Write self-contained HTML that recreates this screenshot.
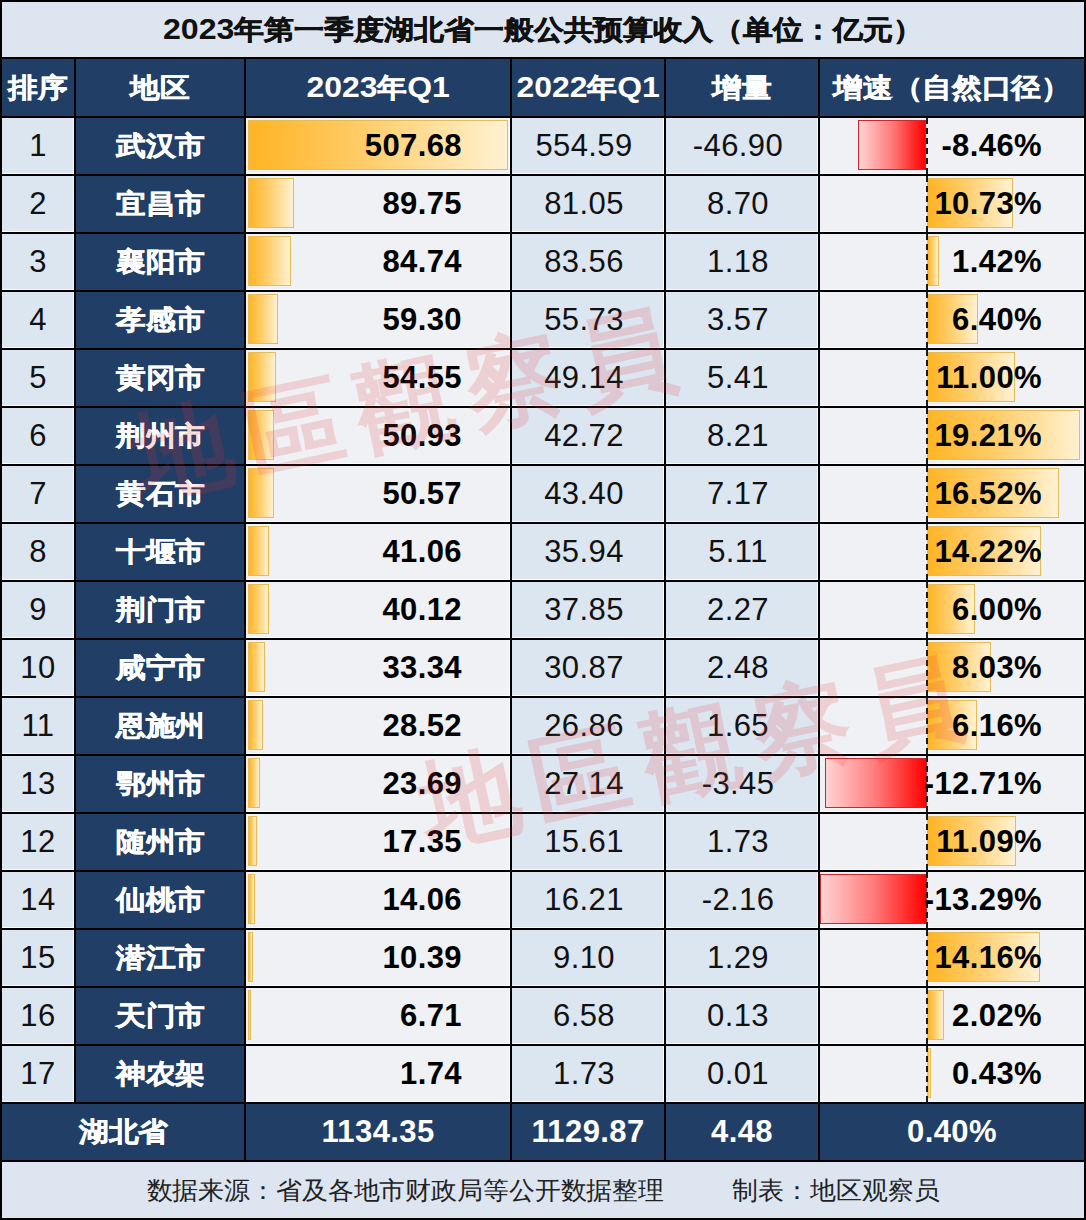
<!DOCTYPE html><html><head><meta charset="utf-8"><style>
*{margin:0;padding:0;box-sizing:border-box}
html,body{width:1086px;height:1220px;overflow:hidden;background:#000}
body{position:relative;font-family:"Liberation Sans",sans-serif}
.c{position:absolute;display:flex;align-items:center;justify-content:center;white-space:nowrap;overflow:hidden}
.r{justify-content:flex-end}
.nv{background:#213e66;color:#fff;font-weight:bold}
.k{display:inline-block;transform:scaleX(1.1);font-size:27px;-webkit-text-stroke:0.5px currentColor}
.d{font-size:29px;-webkit-text-stroke:0}
.n{font-size:31px;letter-spacing:0.4px}
.rk{background:#dce6f1;color:#111;box-shadow:inset -1px -1px 0 rgba(255,255,255,.85)}
.v23{background:#eff1f4;color:#000;font-weight:bold;box-shadow:inset -1px -1px 0 rgba(255,255,255,.85)}
.v22{background:#dce6f1;color:#111;box-shadow:inset -1px -1px 0 rgba(255,255,255,.85)}
.gr{background:#eff1f4;color:#000;font-weight:bold;box-shadow:inset -1px -1px 0 rgba(255,255,255,.85)}
.bar{position:absolute;border:1px solid #e5bc55;background:linear-gradient(90deg,#ffb424 0%,#ffcd6a 45%,#fff2d2 100%)}
.nbar{position:absolute;border:1px solid #c8282e;background:linear-gradient(90deg,#ffd4d4 0%,#ff7a7a 50%,#ff0000 100%)}
.axis{position:absolute;width:0;border-left:2px dashed #1a1a1a}
.t{position:relative;z-index:2}
.wm{position:absolute;z-index:5;color:rgba(230,50,55,0.17);font-family:"Liberation Serif",serif;font-weight:bold;font-size:98px;white-space:nowrap;line-height:1}
.wm span{position:absolute;transform:translate(-50%,-50%) rotate(-12deg)}
</style></head><body>

<div class="c " style="left:2px;top:2px;width:1082px;height:55px;background:#dde6f0;font-weight:bold;color:#111"><span class="k t" style="transform:scaleX(1.108)"><span class="d">2023</span>年第一季度湖北省一般公共预算收入（单位：亿元）</span></div>
<div class="c nv" style="left:2px;top:59px;width:72px;height:57px;"><span class="k">排序</span></div>
<div class="c nv" style="left:76px;top:59px;width:168px;height:57px;"><span class="k">地区</span></div>
<div class="c nv" style="left:246px;top:59px;width:264px;height:57px;"><span class="k"><span class="d">2023</span>年<span class="d">Q1</span></span></div>
<div class="c nv" style="left:512px;top:59px;width:152px;height:57px;"><span class="k"><span class="d">2022</span>年<span class="d">Q1</span></span></div>
<div class="c nv" style="left:666px;top:59px;width:152px;height:57px;"><span class="k">增量</span></div>
<div class="c nv" style="left:820px;top:59px;width:264px;height:57px;"><span class="k">增速（自然口径）</span></div>
<div class="c rk n" style="left:2px;top:118px;width:72px;height:56px;">1</div>
<div class="c nv" style="left:76px;top:118px;width:168px;height:56px;"><span class="k">武汉市</span></div>
<div class="c v23 r n" style="left:246px;top:118px;width:264px;height:56px;padding-right:48px">
<div class="bar" style="left:2px;top:2px;width:259.5px;height:50px"></div>
<span class="t">507.68</span></div>
<div class="c v22 n" style="left:512px;top:118px;width:152px;height:56px;padding-right:8px">554.59</div>
<div class="c v22 n" style="left:666px;top:118px;width:152px;height:56px;padding-right:8px">-46.90</div>
<div class="c gr r n" style="left:820px;top:118px;width:264px;height:56px;padding-right:42px">
<div class="nbar" style="left:38.2px;top:2px;width:68.3px;height:50px"></div>
<div class="axis" style="left:105.5px;top:0;height:56px"></div>
<span class="t">-8.46%</span></div>
<div class="c rk n" style="left:2px;top:176px;width:72px;height:56px;">2</div>
<div class="c nv" style="left:76px;top:176px;width:168px;height:56px;"><span class="k">宜昌市</span></div>
<div class="c v23 r n" style="left:246px;top:176px;width:264px;height:56px;padding-right:48px">
<div class="bar" style="left:2px;top:2px;width:45.9px;height:50px"></div>
<span class="t">89.75</span></div>
<div class="c v22 n" style="left:512px;top:176px;width:152px;height:56px;padding-right:8px">81.05</div>
<div class="c v22 n" style="left:666px;top:176px;width:152px;height:56px;padding-right:8px">8.70</div>
<div class="c gr r n" style="left:820px;top:176px;width:264px;height:56px;padding-right:42px">
<div class="bar" style="left:106.5px;top:2px;width:86.3px;height:50px"></div>
<div class="axis" style="left:105.5px;top:0;height:56px"></div>
<span class="t">10.73%</span></div>
<div class="c rk n" style="left:2px;top:234px;width:72px;height:56px;">3</div>
<div class="c nv" style="left:76px;top:234px;width:168px;height:56px;"><span class="k">襄阳市</span></div>
<div class="c v23 r n" style="left:246px;top:234px;width:264px;height:56px;padding-right:48px">
<div class="bar" style="left:2px;top:2px;width:43.3px;height:50px"></div>
<span class="t">84.74</span></div>
<div class="c v22 n" style="left:512px;top:234px;width:152px;height:56px;padding-right:8px">83.56</div>
<div class="c v22 n" style="left:666px;top:234px;width:152px;height:56px;padding-right:8px">1.18</div>
<div class="c gr r n" style="left:820px;top:234px;width:264px;height:56px;padding-right:42px">
<div class="bar" style="left:106.5px;top:2px;width:12.3px;height:50px"></div>
<div class="axis" style="left:105.5px;top:0;height:56px"></div>
<span class="t">1.42%</span></div>
<div class="c rk n" style="left:2px;top:292px;width:72px;height:56px;">4</div>
<div class="c nv" style="left:76px;top:292px;width:168px;height:56px;"><span class="k">孝感市</span></div>
<div class="c v23 r n" style="left:246px;top:292px;width:264px;height:56px;padding-right:48px">
<div class="bar" style="left:2px;top:2px;width:30.3px;height:50px"></div>
<span class="t">59.30</span></div>
<div class="c v22 n" style="left:512px;top:292px;width:152px;height:56px;padding-right:8px">55.73</div>
<div class="c v22 n" style="left:666px;top:292px;width:152px;height:56px;padding-right:8px">3.57</div>
<div class="c gr r n" style="left:820px;top:292px;width:264px;height:56px;padding-right:42px">
<div class="bar" style="left:106.5px;top:2px;width:51.9px;height:50px"></div>
<div class="axis" style="left:105.5px;top:0;height:56px"></div>
<span class="t">6.40%</span></div>
<div class="c rk n" style="left:2px;top:350px;width:72px;height:56px;">5</div>
<div class="c nv" style="left:76px;top:350px;width:168px;height:56px;"><span class="k">黄冈市</span></div>
<div class="c v23 r n" style="left:246px;top:350px;width:264px;height:56px;padding-right:48px">
<div class="bar" style="left:2px;top:2px;width:27.9px;height:50px"></div>
<span class="t">54.55</span></div>
<div class="c v22 n" style="left:512px;top:350px;width:152px;height:56px;padding-right:8px">49.14</div>
<div class="c v22 n" style="left:666px;top:350px;width:152px;height:56px;padding-right:8px">5.41</div>
<div class="c gr r n" style="left:820px;top:350px;width:264px;height:56px;padding-right:42px">
<div class="bar" style="left:106.5px;top:2px;width:88.5px;height:50px"></div>
<div class="axis" style="left:105.5px;top:0;height:56px"></div>
<span class="t">11.00%</span></div>
<div class="c rk n" style="left:2px;top:408px;width:72px;height:56px;">6</div>
<div class="c nv" style="left:76px;top:408px;width:168px;height:56px;"><span class="k">荆州市</span></div>
<div class="c v23 r n" style="left:246px;top:408px;width:264px;height:56px;padding-right:48px">
<div class="bar" style="left:2px;top:2px;width:26.0px;height:50px"></div>
<span class="t">50.93</span></div>
<div class="c v22 n" style="left:512px;top:408px;width:152px;height:56px;padding-right:8px">42.72</div>
<div class="c v22 n" style="left:666px;top:408px;width:152px;height:56px;padding-right:8px">8.21</div>
<div class="c gr r n" style="left:820px;top:408px;width:264px;height:56px;padding-right:42px">
<div class="bar" style="left:106.5px;top:2px;width:153.7px;height:50px"></div>
<div class="axis" style="left:105.5px;top:0;height:56px"></div>
<span class="t">19.21%</span></div>
<div class="c rk n" style="left:2px;top:466px;width:72px;height:56px;">7</div>
<div class="c nv" style="left:76px;top:466px;width:168px;height:56px;"><span class="k">黄石市</span></div>
<div class="c v23 r n" style="left:246px;top:466px;width:264px;height:56px;padding-right:48px">
<div class="bar" style="left:2px;top:2px;width:25.8px;height:50px"></div>
<span class="t">50.57</span></div>
<div class="c v22 n" style="left:512px;top:466px;width:152px;height:56px;padding-right:8px">43.40</div>
<div class="c v22 n" style="left:666px;top:466px;width:152px;height:56px;padding-right:8px">7.17</div>
<div class="c gr r n" style="left:820px;top:466px;width:264px;height:56px;padding-right:42px">
<div class="bar" style="left:106.5px;top:2px;width:132.3px;height:50px"></div>
<div class="axis" style="left:105.5px;top:0;height:56px"></div>
<span class="t">16.52%</span></div>
<div class="c rk n" style="left:2px;top:524px;width:72px;height:56px;">8</div>
<div class="c nv" style="left:76px;top:524px;width:168px;height:56px;"><span class="k">十堰市</span></div>
<div class="c v23 r n" style="left:246px;top:524px;width:264px;height:56px;padding-right:48px">
<div class="bar" style="left:2px;top:2px;width:21.0px;height:50px"></div>
<span class="t">41.06</span></div>
<div class="c v22 n" style="left:512px;top:524px;width:152px;height:56px;padding-right:8px">35.94</div>
<div class="c v22 n" style="left:666px;top:524px;width:152px;height:56px;padding-right:8px">5.11</div>
<div class="c gr r n" style="left:820px;top:524px;width:264px;height:56px;padding-right:42px">
<div class="bar" style="left:106.5px;top:2px;width:114.0px;height:50px"></div>
<div class="axis" style="left:105.5px;top:0;height:56px"></div>
<span class="t">14.22%</span></div>
<div class="c rk n" style="left:2px;top:582px;width:72px;height:56px;">9</div>
<div class="c nv" style="left:76px;top:582px;width:168px;height:56px;"><span class="k">荆门市</span></div>
<div class="c v23 r n" style="left:246px;top:582px;width:264px;height:56px;padding-right:48px">
<div class="bar" style="left:2px;top:2px;width:20.5px;height:50px"></div>
<span class="t">40.12</span></div>
<div class="c v22 n" style="left:512px;top:582px;width:152px;height:56px;padding-right:8px">37.85</div>
<div class="c v22 n" style="left:666px;top:582px;width:152px;height:56px;padding-right:8px">2.27</div>
<div class="c gr r n" style="left:820px;top:582px;width:264px;height:56px;padding-right:42px">
<div class="bar" style="left:106.5px;top:2px;width:48.7px;height:50px"></div>
<div class="axis" style="left:105.5px;top:0;height:56px"></div>
<span class="t">6.00%</span></div>
<div class="c rk n" style="left:2px;top:640px;width:72px;height:56px;">10</div>
<div class="c nv" style="left:76px;top:640px;width:168px;height:56px;"><span class="k">咸宁市</span></div>
<div class="c v23 r n" style="left:246px;top:640px;width:264px;height:56px;padding-right:48px">
<div class="bar" style="left:2px;top:2px;width:17.0px;height:50px"></div>
<span class="t">33.34</span></div>
<div class="c v22 n" style="left:512px;top:640px;width:152px;height:56px;padding-right:8px">30.87</div>
<div class="c v22 n" style="left:666px;top:640px;width:152px;height:56px;padding-right:8px">2.48</div>
<div class="c gr r n" style="left:820px;top:640px;width:264px;height:56px;padding-right:42px">
<div class="bar" style="left:106.5px;top:2px;width:64.8px;height:50px"></div>
<div class="axis" style="left:105.5px;top:0;height:56px"></div>
<span class="t">8.03%</span></div>
<div class="c rk n" style="left:2px;top:698px;width:72px;height:56px;">11</div>
<div class="c nv" style="left:76px;top:698px;width:168px;height:56px;"><span class="k">恩施州</span></div>
<div class="c v23 r n" style="left:246px;top:698px;width:264px;height:56px;padding-right:48px">
<div class="bar" style="left:2px;top:2px;width:14.6px;height:50px"></div>
<span class="t">28.52</span></div>
<div class="c v22 n" style="left:512px;top:698px;width:152px;height:56px;padding-right:8px">26.86</div>
<div class="c v22 n" style="left:666px;top:698px;width:152px;height:56px;padding-right:8px">1.65</div>
<div class="c gr r n" style="left:820px;top:698px;width:264px;height:56px;padding-right:42px">
<div class="bar" style="left:106.5px;top:2px;width:50.0px;height:50px"></div>
<div class="axis" style="left:105.5px;top:0;height:56px"></div>
<span class="t">6.16%</span></div>
<div class="c rk n" style="left:2px;top:756px;width:72px;height:56px;">13</div>
<div class="c nv" style="left:76px;top:756px;width:168px;height:56px;"><span class="k">鄂州市</span></div>
<div class="c v23 r n" style="left:246px;top:756px;width:264px;height:56px;padding-right:48px">
<div class="bar" style="left:2px;top:2px;width:12.1px;height:50px"></div>
<span class="t">23.69</span></div>
<div class="c v22 n" style="left:512px;top:756px;width:152px;height:56px;padding-right:8px">27.14</div>
<div class="c v22 n" style="left:666px;top:756px;width:152px;height:56px;padding-right:8px">-3.45</div>
<div class="c gr r n" style="left:820px;top:756px;width:264px;height:56px;padding-right:42px">
<div class="nbar" style="left:4.5px;top:2px;width:102.0px;height:50px"></div>
<div class="axis" style="left:105.5px;top:0;height:56px"></div>
<span class="t">-12.71%</span></div>
<div class="c rk n" style="left:2px;top:814px;width:72px;height:56px;">12</div>
<div class="c nv" style="left:76px;top:814px;width:168px;height:56px;"><span class="k">随州市</span></div>
<div class="c v23 r n" style="left:246px;top:814px;width:264px;height:56px;padding-right:48px">
<div class="bar" style="left:2px;top:2px;width:8.9px;height:50px"></div>
<span class="t">17.35</span></div>
<div class="c v22 n" style="left:512px;top:814px;width:152px;height:56px;padding-right:8px">15.61</div>
<div class="c v22 n" style="left:666px;top:814px;width:152px;height:56px;padding-right:8px">1.73</div>
<div class="c gr r n" style="left:820px;top:814px;width:264px;height:56px;padding-right:42px">
<div class="bar" style="left:106.5px;top:2px;width:89.2px;height:50px"></div>
<div class="axis" style="left:105.5px;top:0;height:56px"></div>
<span class="t">11.09%</span></div>
<div class="c rk n" style="left:2px;top:872px;width:72px;height:56px;">14</div>
<div class="c nv" style="left:76px;top:872px;width:168px;height:56px;"><span class="k">仙桃市</span></div>
<div class="c v23 r n" style="left:246px;top:872px;width:264px;height:56px;padding-right:48px">
<div class="bar" style="left:2px;top:2px;width:7.2px;height:50px"></div>
<span class="t">14.06</span></div>
<div class="c v22 n" style="left:512px;top:872px;width:152px;height:56px;padding-right:8px">16.21</div>
<div class="c v22 n" style="left:666px;top:872px;width:152px;height:56px;padding-right:8px">-2.16</div>
<div class="c gr r n" style="left:820px;top:872px;width:264px;height:56px;padding-right:42px">
<div class="nbar" style="left:0.0px;top:2px;width:106.5px;height:50px"></div>
<div class="axis" style="left:105.5px;top:0;height:56px"></div>
<span class="t">-13.29%</span></div>
<div class="c rk n" style="left:2px;top:930px;width:72px;height:56px;">15</div>
<div class="c nv" style="left:76px;top:930px;width:168px;height:56px;"><span class="k">潜江市</span></div>
<div class="c v23 r n" style="left:246px;top:930px;width:264px;height:56px;padding-right:48px">
<div class="bar" style="left:2px;top:2px;width:5.3px;height:50px"></div>
<span class="t">10.39</span></div>
<div class="c v22 n" style="left:512px;top:930px;width:152px;height:56px;padding-right:8px">9.10</div>
<div class="c v22 n" style="left:666px;top:930px;width:152px;height:56px;padding-right:8px">1.29</div>
<div class="c gr r n" style="left:820px;top:930px;width:264px;height:56px;padding-right:42px">
<div class="bar" style="left:106.5px;top:2px;width:113.6px;height:50px"></div>
<div class="axis" style="left:105.5px;top:0;height:56px"></div>
<span class="t">14.16%</span></div>
<div class="c rk n" style="left:2px;top:988px;width:72px;height:56px;">16</div>
<div class="c nv" style="left:76px;top:988px;width:168px;height:56px;"><span class="k">天门市</span></div>
<div class="c v23 r n" style="left:246px;top:988px;width:264px;height:56px;padding-right:48px">
<div class="bar" style="left:2px;top:2px;width:3.4px;height:50px"></div>
<span class="t">6.71</span></div>
<div class="c v22 n" style="left:512px;top:988px;width:152px;height:56px;padding-right:8px">6.58</div>
<div class="c v22 n" style="left:666px;top:988px;width:152px;height:56px;padding-right:8px">0.13</div>
<div class="c gr r n" style="left:820px;top:988px;width:264px;height:56px;padding-right:42px">
<div class="bar" style="left:106.5px;top:2px;width:17.1px;height:50px"></div>
<div class="axis" style="left:105.5px;top:0;height:56px"></div>
<span class="t">2.02%</span></div>
<div class="c rk n" style="left:2px;top:1046px;width:72px;height:56px;">17</div>
<div class="c nv" style="left:76px;top:1046px;width:168px;height:56px;"><span class="k">神农架</span></div>
<div class="c v23 r n" style="left:246px;top:1046px;width:264px;height:56px;padding-right:48px">
<span class="t">1.74</span></div>
<div class="c v22 n" style="left:512px;top:1046px;width:152px;height:56px;padding-right:8px">1.73</div>
<div class="c v22 n" style="left:666px;top:1046px;width:152px;height:56px;padding-right:8px">0.01</div>
<div class="c gr r n" style="left:820px;top:1046px;width:264px;height:56px;padding-right:42px">
<div class="bar" style="left:106.5px;top:2px;width:4.4px;height:50px"></div>
<div class="axis" style="left:105.5px;top:0;height:56px"></div>
<span class="t">0.43%</span></div>
<div class="c nv" style="left:2px;top:1104px;width:242px;height:56px;"><span class="k">湖北省</span></div>
<div class="c nv n" style="left:246px;top:1104px;width:264px;height:56px;">1134.35</div>
<div class="c nv n" style="left:512px;top:1104px;width:152px;height:56px;">1129.87</div>
<div class="c nv n" style="left:666px;top:1104px;width:152px;height:56px;">4.48</div>
<div class="c nv n" style="left:820px;top:1104px;width:264px;height:56px;">0.40%</div>
<div class="c " style="left:2px;top:1162px;width:1082px;height:56px;background:#dde6f0;color:#222"><span style="display:inline-block;transform:scaleX(1.035);font-size:25px">数据来源：省及各地市财政局等公开数据整理<span style="display:inline-block;width:66px"></span>制表：地区观察员</span></div>
<div class="wm">
<span style="left:183px;top:452px">地</span>
<span style="left:294px;top:428px">區</span>
<span style="left:404px;top:405px">觀</span>
<span style="left:514px;top:382px">察</span>
<span style="left:625px;top:358px">員</span>
</div>
<div class="wm">
<span style="left:470px;top:800px">地</span>
<span style="left:580px;top:776px">區</span>
<span style="left:691px;top:753px">觀</span>
<span style="left:802px;top:730px">察</span>
<span style="left:912px;top:706px">員</span>
</div>
</body></html>
